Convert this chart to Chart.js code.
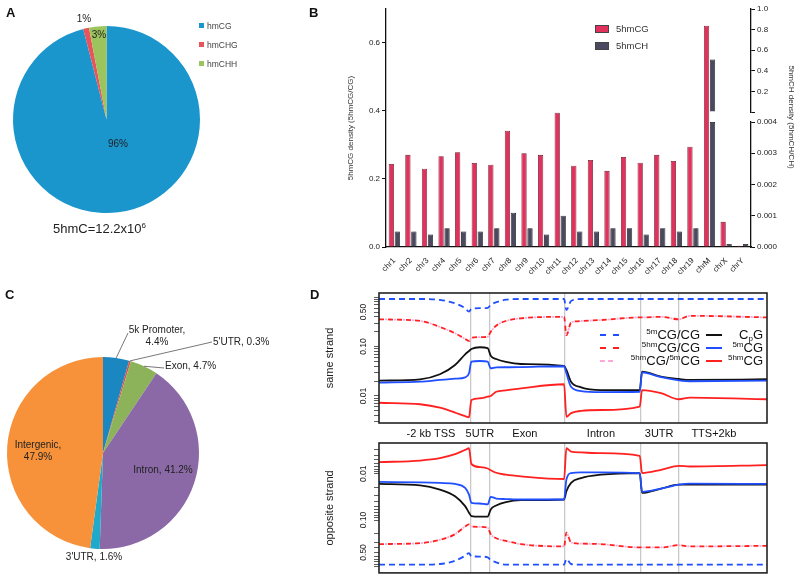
<!DOCTYPE html>
<html>
<head>
<meta charset="utf-8">
<script src="https://cdn.jsdelivr.net/npm/chart.js@4.4.1/dist/chart.umd.min.js"></script>
<style>
body { margin: 0; width: 800px; height: 580px; position: relative; background: #fff; overflow: hidden;
  font-family: "Liberation Sans", Arial, sans-serif; color: #222; }
canvas { position: absolute; }
.tag { position: absolute; font-weight: bold; font-size: 13px; line-height: 13px; color: #111; }
.txt { position: absolute; white-space: nowrap; }
.legA { position: absolute; font-size: 8.5px; line-height: 10px; color: #444; white-space: nowrap; }
.legA i { display: inline-block; width: 5px; height: 5px; margin-right: 3px; vertical-align: 1px; }
.legB { position: absolute; font-size: 9.5px; line-height: 10px; color: #333; white-space: nowrap; }
.legB i { position: absolute; left: -21px; top: 1px; width: 12px; height: 6px; border: 1px solid #444; }
.smp { position: absolute; width: 19px; height: 0; }
.dl { position: absolute; font-size: 13px; line-height: 16px; color: #111; white-space: nowrap; text-align: right; }
sup { font-size: 8px; vertical-align: 5px; line-height: 0; }
sub { font-size: 8px; vertical-align: -2px; line-height: 0; }
</style>
</head>
<body>

<canvas id="pieA" width="250" height="250" style="left:0;top:0"></canvas>
<canvas id="barB" width="500" height="280" style="left:300px;top:0"></canvas>
<canvas id="pieC" width="330" height="300" style="left:0;top:280px"></canvas>
<canvas id="lineSame" width="500" height="162" style="left:300px;top:283px"></canvas>
<canvas id="lineOpp" width="500" height="147" style="left:300px;top:433px"></canvas>

<div class="tag" style="left:6px;top:6px">A</div>
<div class="tag" style="left:309px;top:6px">B</div>
<div class="tag" style="left:5px;top:288px">C</div>
<div class="tag" style="left:310px;top:288px">D</div>

<div class="legA" style="left:199px;top:21px"><i style="background:#1b96cd"></i>hmCG</div>
<div class="legA" style="left:199px;top:40px"><i style="background:#e8545b"></i>hmCHG</div>
<div class="legA" style="left:199px;top:59px"><i style="background:#9cc45c"></i>hmCHH</div>
<div class="txt" style="left:53px;top:221px;font-size:13px;line-height:16px">5hmC=12.2x10<sup>6</sup></div>

<div class="legB" style="left:616px;top:24px"><i style="background:#e0325c"></i>5hmCG</div>
<div class="legB" style="left:616px;top:41px"><i style="background:#4b4960"></i>5hmCH</div>

<span class="smp" style="left:600px;top:334px;border-top:2px dashed #1f4fff"></span>
<span class="smp" style="left:600px;top:347px;border-top:2px dashed #ff2020"></span>
<span class="smp" style="left:600px;top:360px;width:13px;border-top:2px dashed #ffa6d9"></span>
<span class="smp" style="left:706px;top:334px;width:16px;border-top:2px solid #111"></span>
<span class="smp" style="left:706px;top:347px;width:16px;border-top:2px solid #1f4fff"></span>
<span class="smp" style="left:706px;top:360px;width:16px;border-top:2px solid #ff2020"></span>
<div class="dl" style="right:100px;top:327px"><sup>5m</sup>CG/CG</div>
<div class="dl" style="right:100px;top:340px"><sup>5hm</sup>CG/CG</div>
<div class="dl" style="right:100px;top:353px"><sup>5hm</sup>CG/<sup>5m</sup>CG</div>
<div class="dl" style="right:37px;top:327px">C<sub>p</sub>G</div>
<div class="dl" style="right:37px;top:340px"><sup>5m</sup>CG</div>
<div class="dl" style="right:37px;top:353px"><sup>5hm</sup>CG</div>

<script>
// A: 5hmC by sequence context (%)
const contextNames = ['hmCG', 'hmCHG', 'hmCHH']
const contextShare = [96, 1, 3]

// B: 5hmC density per chromosome
const chromosomes = ['chr1', 'chr2', 'chr3', 'chr4', 'chr5', 'chr6', 'chr7', 'chr8', 'chr9', 'chr10', 'chr11',
  'chr12', 'chr13', 'chr14', 'chr15', 'chr16', 'chr17', 'chr18', 'chr19', 'chrM', 'chrX', 'chrY']
const cgDensity = [0.244, 0.271, 0.230, 0.267, 0.279, 0.247, 0.242, 0.342, 0.276, 0.271, 0.395,
  0.239, 0.256, 0.224, 0.265, 0.248, 0.271, 0.253, 0.295, 0.651, 0.074, 0.004]
const chDensity = [0.0005, 0.0005, 0.0004, 0.0006, 0.0005, 0.0005, 0.0006, 0.0011, 0.0006, 0.0004, 0.0010,
  0.0005, 0.0005, 0.0006, 0.0006, 0.0004, 0.0006, 0.0005, 0.0006, 0.51, 0.0001, 0.0001]
const cgTicks = [0, 0.2, 0.4, 0.6]
const chLowTicks = [0, 0.001, 0.002, 0.003, 0.004]
const chHighTicks = [0, 0.2, 0.4, 0.6, 0.8, 1.0]

// C: genomic distribution (%)
const regionNames = ['5k Promoter', "5'UTR", 'Exon', 'Intron', "3'UTR", 'Intergenic']
const regionShare = [4.4, 0.3, 4.7, 41.2, 1.6, 47.9]

// D: profiles along gene body, x in bins (0-100)
const binPos = [0, 10.6, 15.7, 19.6, 22.2, 23.2, 23.8, 26.0, 28.0, 28.8, 30.2, 32.7,
  36.6, 47.7, 48.3, 49.5, 52.1, 57.2, 67.2, 67.8, 72.7, 77.3, 80.1, 100]
const featureEdges = [23.6, 28.4, 47.9, 67.4, 77.3]
const featureNames = ['-2 kb TSS', '5UTR', 'Exon', 'Intron', '3UTR', 'TTS+2kb']
const featureLabelAt = [13.4, 26.0, 37.6, 57.2, 72.2, 86.3]
const strandTickLabels = ['0.01', '0.10', '0.50']

const sameMRatio = [0.92, 0.92, 0.88, 0.75, 0.60, 0.51, 0.58, 0.60, 0.61, 0.70, 0.79, 0.89,
  0.92, 0.92, 0.55, 0.84, 0.92, 0.92, 0.92, 0.92, 0.92, 0.92, 0.92, 0.92]
const sameHmRatio = [0.357, 0.33, 0.25, 0.186, 0.143, 0.13, 0.151, 0.155, 0.158, 0.20, 0.265, 0.33,
  0.374, 0.40, 0.17, 0.305, 0.33, 0.345, 0.39, 0.39, 0.40, 0.357, 0.42, 0.39]
const sameHmOverM = [0.357, 0.33, 0.25, 0.186, 0.143, 0.13, 0.151, 0.155, 0.158, 0.20, 0.265, 0.33,
  0.374, 0.40, 0.17, 0.305, 0.33, 0.345, 0.39, 0.39, 0.40, 0.357, 0.42, 0.39]
const sameCpG = [0.0204, 0.0218, 0.0275, 0.0424, 0.0698, 0.0815, 0.0894, 0.097, 0.093, 0.0655, 0.056, 0.0488,
  0.0444, 0.0405, 0.0336, 0.0195, 0.015, 0.0132, 0.0132, 0.031, 0.0246, 0.0221, 0.0211, 0.0218]
const sameMCG = [0.0186, 0.0195, 0.0211, 0.0224, 0.0239, 0.0288, 0.0494, 0.0511, 0.0494, 0.0363, 0.0381, 0.0382,
  0.0385, 0.040, 0.0288, 0.0154, 0.0126, 0.0120, 0.0122, 0.030, 0.0240, 0.0208, 0.0199, 0.0204]
const sameHmCG = [0.0073, 0.0068, 0.0058, 0.0046, 0.0039, 0.0037, 0.0083, 0.0090, 0.0097, 0.0100, 0.0122, 0.0130,
  0.0143, 0.0173, 0.0038, 0.0045, 0.0050, 0.0052, 0.0061, 0.0132, 0.0114, 0.0086, 0.0093, 0.0086]

const oppMRatio = [0.92, 0.92, 0.889, 0.755, 0.59, 0.516, 0.608, 0.614, 0.638, 0.729, 0.817, 0.92,
  0.92, 0.92, 0.694, 0.889, 0.92, 0.92, 0.92, 0.92, 0.92, 0.92, 0.92, 0.92]
const oppHmRatio = [0.331, 0.315, 0.268, 0.202, 0.138, 0.124, 0.138, 0.14, 0.1455, 0.202, 0.2465, 0.2817,
  0.331, 0.371, 0.186, 0.305, 0.323, 0.331, 0.39, 0.39, 0.39, 0.348, 0.371, 0.36]
const oppHmOverM = [0.331, 0.315, 0.268, 0.202, 0.138, 0.124, 0.138, 0.14, 0.1455, 0.202, 0.2465, 0.2817,
  0.331, 0.371, 0.186, 0.305, 0.323, 0.331, 0.39, 0.39, 0.39, 0.348, 0.371, 0.36]
const oppCpG = [0.01662, 0.0178, 0.022, 0.0306, 0.0501, 0.0694, 0.0821, 0.0846, 0.0846, 0.059, 0.0484, 0.0408,
  0.0373, 0.036, 0.0239, 0.0158, 0.0124, 0.0105, 0.0097, 0.0259, 0.021, 0.0172, 0.0172, 0.0172]
const oppMCG = [0.01505, 0.01536, 0.0158, 0.01662, 0.0202, 0.0282, 0.0424, 0.0439, 0.0461, 0.0315, 0.0343, 0.0352,
  0.036, 0.036, 0.0134, 0.00966, 0.00938, 0.00938, 0.00966, 0.0246, 0.021, 0.0172, 0.01637, 0.01662]
const oppHmCG = [0.00562, 0.00519, 0.00461, 0.00379, 0.00306, 0.00282, 0.00611, 0.00719, 0.0077, 0.00841, 0.00953, 0.0105,
  0.0114, 0.0130, 0.00282, 0.00333, 0.00347, 0.0036, 0.00412, 0.00966, 0.00821, 0.00674, 0.00698, 0.00651]

const FONT = '"Liberation Sans", Arial, sans-serif'
Chart.defaults.font.family = FONT
Chart.defaults.color = '#222'
Chart.defaults.animation = false
Chart.defaults.plugins.legend.display = false
Chart.defaults.plugins.tooltip.enabled = false

// text next to pie slices, offsets are from the pie centre
function sliceText(items, font) {
  return {
    id: 'sliceText',
    afterDatasetsDraw(chart) {
      const arcs = chart.getDatasetMeta(0).data
      const ctx = chart.ctx
      ctx.save()
      ctx.font = font
      ctx.fillStyle = '#222'
      ctx.textBaseline = 'middle'
      items.forEach((it, i) => {
        const arc = arcs[i]
        if (it.lead) {
          const mid = (arc.startAngle + arc.endAngle) / 2
          ctx.beginPath()
          ctx.moveTo(arc.x + Math.cos(mid) * arc.outerRadius, arc.y + Math.sin(mid) * arc.outerRadius)
          ctx.lineTo(arc.x + it.lead[0], arc.y + it.lead[1])
          ctx.strokeStyle = '#555'
          ctx.lineWidth = 0.8
          ctx.stroke()
        }
        ctx.textAlign = it.align || 'center'
        it.lines.forEach((t, k) => ctx.fillText(t, arc.x + it.at[0], arc.y + it.at[1] + k * 12))
      })
      ctx.restore()
    }
  }
}

const frame = {
  id: 'frame',
  afterDraw(chart) {
    const { ctx, chartArea: a } = chart
    ctx.save()
    ctx.strokeStyle = '#222'
    ctx.lineWidth = 1.6
    ctx.strokeRect(a.left, a.top, a.right - a.left, a.bottom - a.top)
    ctx.restore()
  }
}

// ---- A
const aLabelAt = [[11.5, 24.5], [-22.5, -100.5], [-7.5, -84.5]]
new Chart(document.getElementById('pieA'), {
  type: 'pie',
  data: {
    labels: contextNames,
    datasets: [{ data: contextShare, backgroundColor: ['#1b96cd', '#e8545b', '#9cc45c'], borderWidth: 0 }]
  },
  options: {
    responsive: false,
    layout: { padding: { left: 13, top: 26, right: 50, bottom: 37 } }
  },
  plugins: [sliceText(contextShare.map((v, i) => ({ lines: [v + '%'], at: aLabelAt[i] })), '10px ' + FONT)]
})

// ---- B
const chLowMax = chLowTicks[chLowTicks.length - 1]
const tickFont = { size: 8 }
const axisLine = { color: '#111', width: 1.3 }
const tickMarks = { drawOnChartArea: false, tickLength: 4, color: '#111' }
new Chart(document.getElementById('barB'), {
  type: 'bar',
  data: {
    labels: chromosomes,
    datasets: [
      { label: '5hmCG', data: cgDensity, yAxisID: 'y', stack: 'cg',
        backgroundColor: '#e0325c', borderColor: '#6b1a2c', borderWidth: 0.8 },
      { label: '5hmCH', data: chDensity.map(v => Math.min(v, chLowMax)), yAxisID: 'yLow', stack: 'ch',
        backgroundColor: '#4b4960', borderColor: '#151515', borderWidth: 0.8 },
      { label: '5hmCH', data: chDensity.map(v => v > chLowMax ? v : null), yAxisID: 'yHigh', stack: 'ch',
        backgroundColor: '#4b4960', borderColor: '#151515', borderWidth: 0.8 }
    ]
  },
  options: {
    responsive: false,
    layout: { padding: { left: 42, top: 9, right: 0, bottom: 0 } },
    datasets: { bar: { categoryPercentage: 0.72, barPercentage: 0.88 } },
    scales: {
      x: {
        grid: { display: false }, border: axisLine,
        ticks: { font: { size: 8 }, minRotation: 45, maxRotation: 45, autoSkip: false, padding: 1 },
        afterFit: s => { s.height = 33 }
      },
      y: {
        position: 'left', min: 0, max: 0.7,
        afterBuildTicks: s => { s.ticks = cgTicks.map(value => ({ value })) },
        ticks: { font: tickFont, padding: 2, autoSkip: false, callback: v => v.toFixed(1) },
        grid: tickMarks, border: axisLine,
        title: { display: true, text: '5hmCG density (5hmCG/CG)', font: tickFont, color: '#333' },
        afterFit: s => { s.width = 44 }
      },
      yHigh: {
        position: 'right', stack: 'right', stackWeight: 103, min: 0, max: 1,
        afterBuildTicks: s => { s.ticks = chHighTicks.map(value => ({ value })) },
        ticks: { font: tickFont, padding: 2, autoSkip: false, callback: v => v ? v.toFixed(1) : '' },
        grid: tickMarks, border: axisLine,
        afterFit: s => { s.width = 49 }
      },
      yGap: {
        position: 'right', stack: 'right', stackWeight: 10, min: 0, max: 1,
        ticks: { display: false }, grid: { display: false }, border: { display: false },
        title: { display: true, text: '5hmCH density (5hmCH/CH)', font: tickFont, color: '#333' },
        afterFit: s => { s.width = 49 }
      },
      yLow: {
        position: 'right', stack: 'right', stackWeight: 125, min: 0, max: chLowMax,
        afterBuildTicks: s => { s.ticks = chLowTicks.map(value => ({ value })) },
        ticks: { font: tickFont, padding: 2, autoSkip: false, callback: v => v.toFixed(3) },
        grid: tickMarks, border: axisLine,
        afterFit: s => { s.width = 49 }
      }
    }
  }
})

// ---- C
const cLayout = [
  { at: [54, -123], split: true, lead: [25, -120] },
  { at: [110, -111], align: 'left', lead: [109, -111] },
  { at: [62, -87], align: 'left', lead: [61, -85] },
  { at: [60, 17] },
  { at: [-9, 104] },
  { at: [-65, -8], split: true }
]
new Chart(document.getElementById('pieC'), {
  type: 'pie',
  data: {
    labels: regionNames,
    datasets: [{
      data: regionShare,
      backgroundColor: ['#1b87c0', '#d9534f', '#8db35a', '#8a69a6', '#20a9c9', '#f7923a'],
      borderWidth: 0
    }]
  },
  options: {
    responsive: false,
    layout: { padding: { left: 7, top: 77, right: 131, bottom: 31 } }
  },
  plugins: [sliceText(regionShare.map((v, i) => {
    const pct = v.toFixed(1) + '%'
    const lay = cLayout[i]
    return Object.assign({}, lay, {
      lines: lay.split ? [regionNames[i] + ',', pct] : [regionNames[i] + ', ' + pct]
    })
  }), '10px ' + FONT)]
})

// ---- D
function logTicks(min, max) {
  const out = []
  for (let e = -3; e <= 0; e++) {
    for (let m = 1; m <= 9; m++) {
      const v = m * Math.pow(10, e)
      if (v >= min && v <= max) out.push(v)
    }
  }
  return out
}

function strandChart(id, s, yMin, yMax, reverse, title, showNames) {
  const pts = arr => binPos.map((x, i) => ({ x, y: arr[i] }))
  const line = (label, arr, color, extra) => Object.assign({
    label, data: pts(arr), borderColor: color, borderWidth: 1.8, pointRadius: 0,
    cubicInterpolationMode: 'monotone', fill: false
  }, extra)

  const scales = {
    x: {
      type: 'linear', position: 'top', min: 0, max: 100,
      afterBuildTicks: sc => { sc.ticks = featureEdges.map(value => ({ value })) },
      ticks: { display: false },
      grid: { color: '#c9c9c9', lineWidth: 1.3, drawTicks: false },
      border: { display: false }
    },
    y: {
      type: 'logarithmic', min: yMin, max: yMax, reverse,
      afterBuildTicks: sc => { sc.ticks = logTicks(yMin, yMax).map(value => ({ value })) },
      ticks: {
        autoSkip: false, minRotation: 90, maxRotation: 90, crossAlign: 'center', padding: 2,
        font: { size: 8.5 }, color: '#222',
        callback: v => {
          const k = strandTickLabels.findIndex(t => Math.abs(parseFloat(t) - v) < 1e-9)
          return k >= 0 ? strandTickLabels[k] : ''
        }
      },
      grid: { drawOnChartArea: false, tickLength: 5, color: '#333', lineWidth: 0.8 },
      border: { display: false },
      title: { display: true, text: title, font: { size: 11 }, color: '#222', padding: { top: 3, bottom: 0 } },
      afterFit: sc => { sc.width = 59 }
    }
  }
  if (showNames) {
    scales.xl = {
      type: 'linear', position: 'bottom', min: 0, max: 100,
      afterBuildTicks: sc => { sc.ticks = featureLabelAt.map(value => ({ value })) },
      ticks: { autoSkip: false, maxRotation: 0, padding: 4, font: { size: 11 }, color: '#111',
        callback: (v, i) => featureNames[i] },
      grid: { display: false, drawTicks: false }, border: { display: false },
      afterFit: sc => { sc.height = 22 }
    }
  }

  new Chart(document.getElementById(id), {
    type: 'line',
    data: {
      datasets: [
        line('5hmCG', s.hmcg, '#ff2020'),
        line('5mCG', s.mcg, '#1f4fff'),
        line('CpG', s.cpg, '#111111'),
        line('5hmCG/CG', s.hmRatio, '#ff2020', { borderDash: [5, 4] }),
        line('5hmCG/5mCG', s.hmOverM, '#ffa6d9', { borderDash: [2, 7], borderDashOffset: 3 }),
        line('5mCG/CG', s.mRatio, '#1f4fff', { borderDash: [6, 4] })
      ]
    },
    options: {
      responsive: false,
      layout: { padding: { left: 20, top: 10, right: 33, bottom: showNames ? 0 : 6 } },
      scales
    },
    plugins: [frame]
  })
}

strandChart('lineSame', {
  hmcg: sameHmCG, mcg: sameMCG, cpg: sameCpG, hmRatio: sameHmRatio, hmOverM: sameHmOverM, mRatio: sameMRatio
}, 0.00284, 1.216, false, 'same strand', true)

strandChart('lineOpp', {
  hmcg: oppHmCG, mcg: oppMCG, cpg: oppCpG, hmRatio: oppHmRatio, hmOverM: oppHmOverM, mRatio: oppMRatio
}, 0.00217, 1.384, true, 'opposite strand', false)
</script>
</body>
</html>
